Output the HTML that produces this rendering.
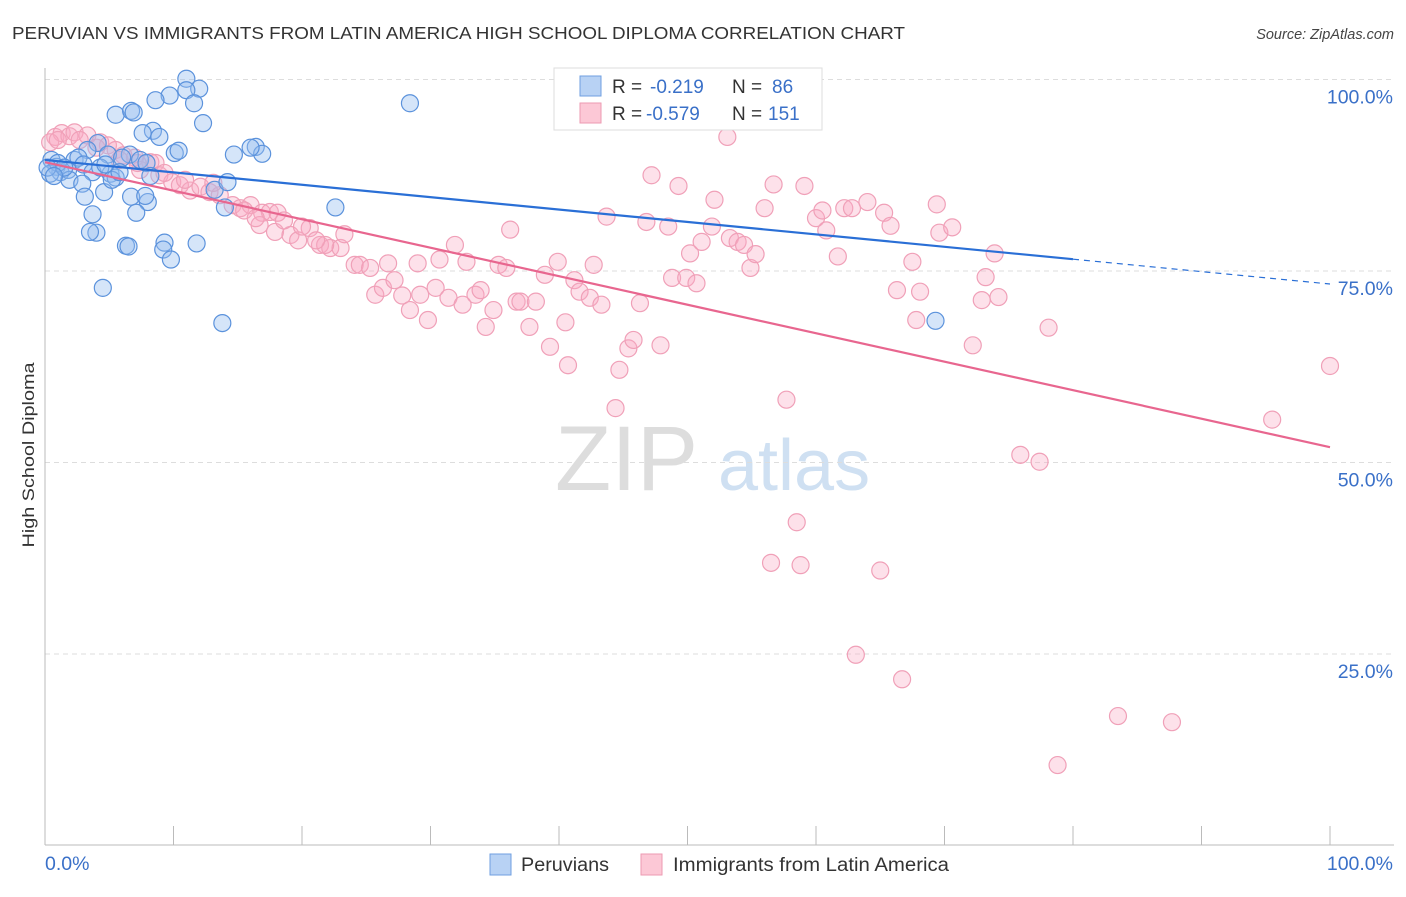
<!DOCTYPE html>
<html><head><meta charset="utf-8"><style>
body{margin:0;background:#fff;font-family:"Liberation Sans",sans-serif;}
svg text{font-family:"Liberation Sans",sans-serif;}
</style></head><body>
<svg id="chart" width="1406" height="892" xmlns="http://www.w3.org/2000/svg">
<text x="12" y="39" font-size="17.5" fill="#333" textLength="893" lengthAdjust="spacingAndGlyphs">PERUVIAN VS IMMIGRANTS FROM LATIN AMERICA HIGH SCHOOL DIPLOMA CORRELATION CHART</text>
<text x="1394" y="39" font-size="14.5" fill="#444" text-anchor="end" font-style="italic">Source: ZipAtlas.com</text>
<g>
<text x="555" y="490" font-size="92" fill="#ddd" font-family="Liberation Serif,serif">ZIP</text>
<text x="718" y="490" font-size="72" fill="#cfe0f2">atlas</text>
</g>
<g id="grid"></g><g id="axes"></g><g id="pink"></g><g id="blue"></g><g id="trends"></g>
<g>
<rect x="554" y="68" width="268" height="62" fill="#fff" stroke="#ddd"/>
<rect x="580" y="76" width="21" height="20" fill="#b8d2f4" stroke="#6f9fe0"/>
<rect x="580" y="103" width="21" height="20" fill="#fcc8d6" stroke="#ec9ab2"/>
<text x="612" y="93" font-size="19" fill="#333">R = </text><text x="650" y="93" font-size="19" fill="#3a70c8">-0.219</text>
<text x="732" y="93" font-size="19" fill="#333">N = </text><text x="772" y="93" font-size="19" fill="#3a70c8">86</text>
<text x="612" y="120" font-size="19" fill="#333">R = </text><text x="646" y="120" font-size="19" fill="#3a70c8">-0.579</text>
<text x="732" y="120" font-size="19" fill="#333">N = </text><text x="768" y="120" font-size="19" fill="#3a70c8">151</text>
</g>
<g>
<rect x="490" y="854" width="21" height="21" fill="#b8d2f4" stroke="#6f9fe0"/>
<text x="521" y="871" font-size="19" fill="#333" textLength="88" lengthAdjust="spacingAndGlyphs">Peruvians</text>
<rect x="641" y="854" width="21" height="21" fill="#fcc8d6" stroke="#ec9ab2"/>
<text x="673" y="871" font-size="19" fill="#333" textLength="276" lengthAdjust="spacingAndGlyphs">Immigrants from Latin America</text>
</g>
<text transform="translate(34,455) rotate(-90)" font-size="17" fill="#333" text-anchor="middle" textLength="185" lengthAdjust="spacingAndGlyphs">High School Diploma</text>
</svg>
<script>
const yTicks=[100,75,50,25];
const yTickLabels=["100.0%","75.0%","50.0%","25.0%"];
const xTickLabels=["0.0%","100.0%"];
const blueX=[11.0,12.0,11.0,9.7,11.6,8.6,28.4,5.5,6.7,6.9,12.3,8.4,7.6,8.9,10.1,10.4,14.7,16.4,16.9,16.0,4.1,6.6,4.9,7.4,7.9,6.0,3.3,0.5,0.9,1.2,0.4,1.8,2.3,2.6,3.0,3.7,1.9,2.9,5.1,5.5,4.6,3.1,6.7,8.0,7.8,5.2,8.2,7.1,3.7,4.0,3.5,6.3,6.5,9.3,9.2,11.8,9.8,22.6,13.2,14.2,14.0,4.5,13.8,69.3,1.0,1.5,0.2,0.7,4.3,5.8,4.7];
const blueY=[100.1,98.8,98.6,97.9,96.9,97.3,96.9,95.4,95.9,95.7,94.3,93.3,93.0,92.5,90.4,90.7,90.2,91.2,90.3,91.1,91.7,90.2,90.2,89.5,89.1,89.8,90.8,89.5,88.6,87.9,87.7,88.2,89.5,89.8,88.9,87.9,86.9,86.4,87.7,87.2,85.3,84.7,84.7,84.0,84.8,86.9,87.4,82.6,82.4,80.0,80.1,78.3,78.2,78.7,77.8,78.6,76.5,83.3,85.6,86.6,83.3,72.8,68.2,68.5,89.1,88.5,88.5,87.4,88.5,87.9,88.9];
const pinkX=[0.8,1.3,1.9,2.3,3.3,4.3,4.9,5.5,6.1,7.0,8.2,8.6,0.4,1.0,2.7,4.0,5.8,7.4,8.9,9.9,10.5,11.3,12.1,12.8,13.6,14.6,15.2,16.0,16.9,17.5,18.1,16.7,17.9,19.1,19.7,20.6,21.4,22.2,23.0,23.3,24.1,24.5,25.3,26.7,25.7,26.3,27.2,27.8,28.4,29.0,29.2,29.8,30.4,30.7,31.4,31.9,32.5,32.8,33.5,33.9,34.3,34.9,35.3,35.9,36.2,36.7,37.0,37.7,38.2,38.9,39.3,39.9,40.5,40.7,41.2,41.6,42.4,42.7,43.3,43.7,44.4,44.7,45.4,45.8,46.3,46.8,47.2,47.9,48.5,48.8,49.3,49.9,50.2,50.7,51.1,51.9,52.1,53.1,53.3,53.9,54.4,54.9,55.3,56.0,56.7,57.7,58.5,56.5,58.8,59.1,60.0,60.5,60.8,61.7,62.2,62.8,64.0,65.0,63.1,65.3,65.8,66.3,66.7,67.5,67.8,68.1,69.4,69.6,70.6,72.2,72.9,73.2,73.9,74.2,75.9,77.4,78.1,78.8,83.5,87.7,95.5,100.0,7.2,9.3,10.9,13.1,15.5,16.4,18.6,20.0,21.8,21.1];
const pinkY=[92.5,93.0,92.6,93.1,92.7,91.8,91.4,90.8,90.1,89.8,89.2,89.1,91.8,92.1,92.1,91.1,89.5,88.2,87.5,86.6,86.2,85.5,86.0,85.3,84.9,83.6,83.2,83.6,82.6,82.7,82.6,81.0,80.1,79.7,79.0,80.6,78.4,78.0,78.0,79.8,75.8,75.8,75.4,76.0,71.9,72.8,73.8,71.8,69.9,76.0,71.9,68.6,72.8,76.5,71.5,78.4,70.6,76.2,71.9,72.5,67.7,69.9,75.8,75.4,80.4,71.0,71.0,67.7,71.0,74.5,65.1,76.2,68.3,62.7,73.8,72.3,71.5,75.8,70.6,82.1,57.1,62.1,64.9,66.0,70.8,81.4,87.5,65.3,80.8,74.1,86.1,74.1,77.3,73.4,78.8,80.8,84.3,92.5,79.3,78.8,78.4,75.4,77.2,83.2,86.3,58.2,42.2,36.9,36.6,86.1,81.9,82.9,80.3,76.9,83.2,83.2,84.0,35.9,24.9,82.6,80.9,72.5,21.7,76.2,68.6,72.3,83.7,80.0,80.7,65.3,71.2,74.2,77.3,71.6,51.0,50.1,67.6,10.5,16.9,16.1,55.6,62.6,89.1,87.8,86.9,86.5,82.9,81.9,81.6,80.8,78.4,79.0];
const blueTrend=[89.5,73.3];   // y at x=0 and x=100
const pinkTrend=[89.2,52.0];
const NS="http://www.w3.org/2000/svg";
const X0=45,X1=1330,Y0=845.5,Y100=79.5;
const sx=v=>X0+(X1-X0)*v/100;
const sy=v=>Y0-(Y0-Y100)*v/100;
function mk(t,a,p){const e=document.createElementNS(NS,t);for(const k in a)e.setAttribute(k,a[k]);document.getElementById(p).appendChild(e);return e;}
yTicks.forEach((t,i)=>{
 const l=mk('line',{x1:45,x2:1394,y1:sy(t),y2:sy(t),stroke:'#ddd','stroke-dasharray':'5,4'},'grid');
 
 
 const tx=mk('text',{x:1393,y:sy(t)+24,'font-size':19.5,fill:'#3a70c8','text-anchor':'end'},'grid');
 tx.textContent=yTickLabels[i];
 
 
});
const ax=mk('line',{x1:45,x2:1394,y1:845,y2:845,stroke:'#bbb'},'axes');


const ay=mk('line',{x1:45,x2:45,y1:68,y2:845,stroke:'#bbb'},'axes');


for(let i=1;i<=10;i++){const t=mk('line',{x1:sx(i*10),x2:sx(i*10),y1:826,y2:845,stroke:'#bbb'},'axes');
 
 }
[0,100].forEach((v,i)=>{const t=mk('text',{x:i?1393:45,y:870,'font-size':19.5,fill:'#3a70c8','text-anchor':i?'end':'start'},'axes');
 t.textContent=xTickLabels[i];
 
 });
pinkX.forEach((x,i)=>{const c=mk('circle',{cx:sx(x),cy:sy(pinkY[i]),r:8.5,fill:'rgba(248,170,195,0.35)',stroke:'#f0a0b8','stroke-width':1.2},'pink');
 
 });
blueX.forEach((x,i)=>{const c=mk('circle',{cx:sx(x),cy:sy(blueY[i]),r:8.5,fill:'rgba(150,190,240,0.4)',stroke:'#5b92dc','stroke-width':1.2},'blue');
 
 });
const bAt=x=>blueTrend[0]+(blueTrend[1]-blueTrend[0])*x/100;
const b1=mk('line',{x1:sx(0),y1:sy(bAt(0)),x2:sx(80),y2:sy(bAt(80)),stroke:'#2a6fd6','stroke-width':2.2},'trends');


const b2=mk('line',{x1:sx(80),y1:sy(bAt(80)),x2:sx(100),y2:sy(bAt(100)),stroke:'#2a6fd6','stroke-width':1.2,'stroke-dasharray':'6,5'},'trends');


const p1=mk('line',{x1:sx(0),y1:sy(pinkTrend[0]),x2:sx(100),y2:sy(pinkTrend[1]),stroke:'#e8668f','stroke-width':2.2},'trends');


</script>
</body></html>
